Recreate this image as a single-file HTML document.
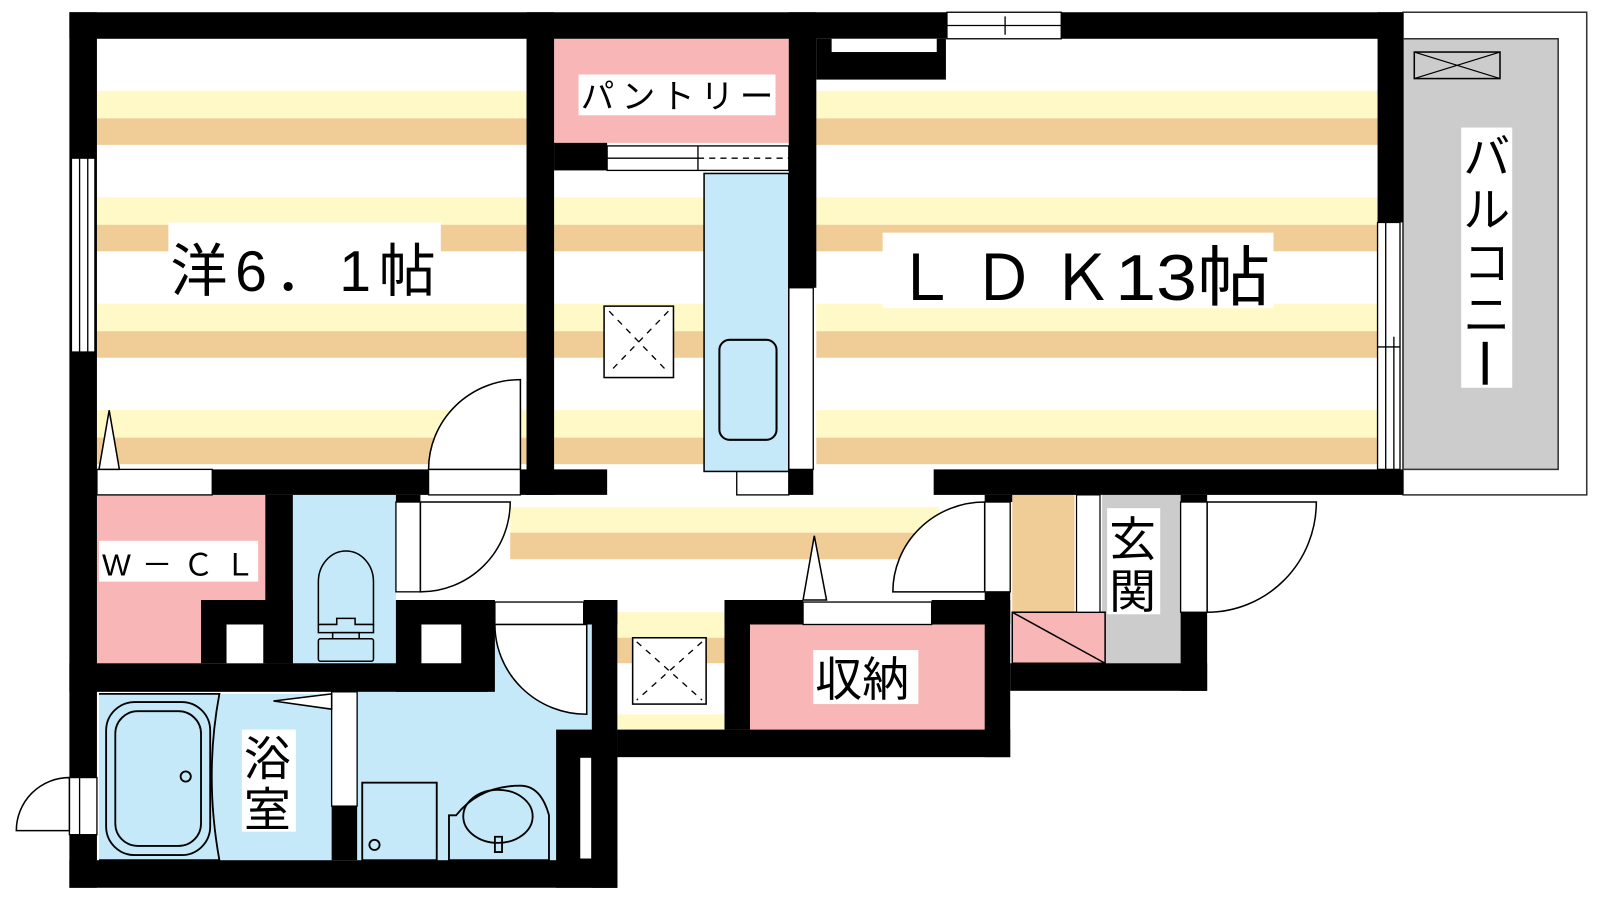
<!DOCTYPE html>
<html><head><meta charset="utf-8"><style>html,body{margin:0;padding:0;background:#fff}svg{display:block}text{font-family:"Liberation Sans","Noto Sans CJK JP",sans-serif;fill:#000}</style></head><body>
<svg width="1600" height="900" viewBox="0 0 1568 882" xmlns="http://www.w3.org/2000/svg">
<defs>
<pattern id="st" x="0" y="89" width="10" height="104.3" patternUnits="userSpaceOnUse">
<rect width="10" height="104.3" fill="#fff"/><rect width="10" height="27" fill="#fff9c8"/><rect y="27" width="10" height="26" fill="#f0cc96"/>
</pattern>
</defs>
<rect width="1568" height="882" fill="#fff"/>
<rect x="95" y="38" width="421" height="422" fill="url(#st)"/>
<rect x="543" y="167" width="230" height="293" fill="url(#st)"/>
<rect x="800" y="78" width="550" height="382" fill="url(#st)"/>
<rect x="500" y="497" width="420" height="25" fill="#fff9c8"/>
<rect x="500" y="522" width="420" height="26" fill="#f0cc96"/>
<rect x="605" y="600" width="105" height="25" fill="#fff9c8"/>
<rect x="605" y="625" width="105" height="25" fill="#f0cc96"/>
<rect x="605" y="700" width="105" height="15" fill="#fff9c8"/>
<rect x="543" y="38" width="230" height="102" fill="#f8b6b6"/>
<path d="M95 485H260V588H197V650H95Z" fill="#f8b6b6"/>
<rect x="287" y="485" width="101" height="165" fill="#c5e9f8"/>
<rect x="97" y="680" width="228" height="163" fill="#c5e9f8"/>
<path d="M350 678H482V612H580V843H350Z" fill="#c5e9f8"/>
<rect x="735" y="612" width="230" height="103" fill="#f8b6b6"/>
<rect x="992" y="485" width="61" height="115" fill="#f0cc96"/>
<rect x="1080" y="485" width="77" height="165" fill="#ccc"/>
<rect x="992" y="600" width="91" height="50" fill="#f8b6b6" stroke="#000" stroke-width="1.5"/>
<line x1="992" y1="600" x2="1083" y2="650" stroke="#000" stroke-width="1.5"/>
<rect x="1055" y="485" width="23" height="115" fill="#fff" stroke="#000" stroke-width="1.2"/>
<rect x="1375" y="12" width="180" height="473" fill="#fff" stroke="#333" stroke-width="1.5"/>
<rect x="1375" y="38" width="152" height="422" fill="#ccc" stroke="#333" stroke-width="1.5"/>
<rect x="1386" y="51" width="84" height="26" fill="none" stroke="#000" stroke-width="1.5"/>
<path d="M1386 51L1470 77M1470 51L1386 77" stroke="#000" stroke-width="1.2"/>
<g fill="#000">
<rect x="68" y="12" width="860" height="26"/>
<rect x="1040" y="12" width="335" height="26"/>
<rect x="68" y="12" width="27" height="858"/>
<rect x="516" y="12" width="27" height="473"/>
<rect x="773" y="12" width="27" height="270"/>
<rect x="773" y="460" width="24" height="25"/>
<rect x="800" y="38" width="127" height="40"/>
<rect x="543" y="140" width="52" height="27"/>
<rect x="208" y="460" width="212" height="25"/>
<rect x="510" y="460" width="85" height="25"/>
<rect x="915" y="460" width="460" height="25"/>
<rect x="1350" y="12" width="25" height="206"/>
<rect x="260" y="485" width="27" height="165"/>
<rect x="197" y="588" width="90" height="62"/>
<rect x="68" y="650" width="410" height="28"/>
<rect x="388" y="588" width="97" height="90"/>
<rect x="388" y="485" width="24" height="7"/>
<rect x="572" y="588" width="33" height="24"/>
<rect x="580" y="588" width="25" height="282"/>
<rect x="545" y="715" width="60" height="155"/>
<rect x="325" y="790" width="25" height="53"/>
<rect x="68" y="843" width="537" height="27"/>
<rect x="605" y="715" width="385" height="27"/>
<rect x="710" y="588" width="25" height="127"/>
<rect x="710" y="588" width="77" height="24"/>
<rect x="913" y="588" width="77" height="24"/>
<rect x="965" y="580" width="25" height="162"/>
<rect x="965" y="485" width="27" height="7"/>
<rect x="990" y="650" width="193" height="27"/>
<rect x="1157" y="600" width="26" height="77"/>
<rect x="1157" y="485" width="26" height="7"/>
</g>
<g fill="#fff">
<rect x="815" y="38" width="103" height="13"/>
<rect x="222" y="612" width="36" height="38"/>
<rect x="413" y="612" width="39" height="38"/>
</g>
<g fill="#fff" stroke="#000" stroke-width="1.3">
<rect x="928" y="12" width="112" height="26"/>
<rect x="70" y="155" width="23" height="190"/>
<rect x="1350" y="218" width="22" height="242"/>
<rect x="773" y="282" width="24" height="178"/>
<rect x="595" y="143" width="178" height="24"/>
<rect x="95" y="460" width="113" height="25"/>
<rect x="420" y="460" width="90" height="25"/>
<rect x="722" y="462" width="51" height="23"/>
<rect x="388" y="492" width="24" height="88"/>
<rect x="485" y="590" width="87" height="22"/>
<rect x="325" y="678" width="25" height="112"/>
<rect x="568" y="742" width="12" height="100"/>
<rect x="787" y="590" width="126" height="22"/>
<rect x="965" y="492" width="25" height="88"/>
<rect x="1157" y="492" width="26" height="108"/>
<rect x="68" y="762" width="27" height="56"/>
</g>
<g stroke="#000" stroke-width="1.3" fill="none">
<path d="M928 25H1040M985 16V34M78 155V345M86 155V345M1358 218V460M1366 330V460M1350 340H1372"/>
<path d="M595 155H684M684 143V167" />
<path d="M684 155H773" stroke-dasharray="6 5"/>
<path d="M78 762V818"/>
</g>
<rect x="690" y="170" width="83" height="292" fill="#c5e9f8" stroke="#000" stroke-width="1.5"/>
<rect x="705" y="333" width="56" height="98" rx="10" fill="none" stroke="#000" stroke-width="2"/>
<rect x="592" y="300" width="68" height="70" fill="#fff" stroke="#000" stroke-width="1.5"/>
<path d="M597 305L655 365M655 305L597 365" stroke="#000" stroke-width="1.3" stroke-dasharray="6 6"/>
<rect x="620" y="625" width="72" height="65" fill="#fff" stroke="#000" stroke-width="1.5"/>
<path d="M624 629L688 686M688 629L624 686" stroke="#000" stroke-width="1.3" stroke-dasharray="6 6"/>
<g fill="#fff" stroke="#000" stroke-width="1.5">
<path d="M510 372V460H420A90 88 0 0 1 510 372Z"/>
<path d="M412 492H500A88 88 0 0 1 412 580Z"/>
<path d="M575 612V700A90 88 0 0 1 485 612Z"/>
<path d="M965 580H875A90 88 0 0 1 965 492Z"/>
<path d="M1183 492H1290A107 108 0 0 1 1183 600Z"/>
<path d="M68 762A52 52 0 0 0 16 814H68Z"/>
<path d="M97 460L107 402L117 460Z"/>
<path d="M787 588L798 525L810 588Z"/>
<path d="M325 680L268 687L325 695Z"/>
</g>
<g fill="#c5e9f8" stroke="#000" stroke-width="1.5">
<path d="M312 612V570A27 30 0 0 1 366 570V612Z"/>
<path d="M312 612H330V606H348V612H366V620H312Z"/>
<rect x="326" y="620" width="26" height="6"/>
<rect x="312" y="626" width="54" height="22" rx="2"/>
</g>
<g fill="none" stroke="#000" stroke-width="1.8">
<path d="M97 680H215Q200 760 215 843H97"/>
<rect x="104" y="688" width="102" height="150" rx="28"/>
<rect x="113" y="697" width="84" height="132" rx="22"/>
<circle cx="182" cy="761" r="5"/>
<rect x="355" y="767" width="73" height="76"/>
<circle cx="367" cy="828" r="5"/>
<path d="M440 843V799H447Q470 770 510 770Q530 770 538 799V843Z"/>
<ellipse cx="488" cy="800" rx="34" ry="26"/>
<path d="M485 820H492V835H485Z"/>
</g>
<rect x="165" y="218" width="267" height="72" fill="#fff"/>
<text x="167" y="285" font-size="56" textLength="260" lengthAdjust="spacing">洋6．1帖</text>
<rect x="865" y="228" width="383" height="74" fill="#fff"/>
<text x="876" y="294" font-size="62" textLength="215" lengthAdjust="spacing">ＬＤＫ</text>
<text x="1093" y="294" font-size="64" textLength="152" lengthAdjust="spacingAndGlyphs">13帖</text>
<rect x="567" y="73" width="193" height="40" fill="#fff"/>
<text x="569" y="106" font-size="33" textLength="189" lengthAdjust="spacing">パントリー</text>
<rect x="97" y="530" width="156" height="40" fill="#fff"/>
<text x="100" y="564" font-size="30" textLength="150">W－ＣＬ</text>
<rect x="797" y="637" width="103" height="53" fill="#fff"/>
<text x="799" y="682" font-size="46">収納</text>
<rect x="1085" y="498" width="52" height="104" fill="#fff"/>
<text x="1087" y="545" font-size="46">玄</text><text x="1087" y="596" font-size="46">関</text>
<rect x="237" y="715" width="53" height="100" fill="#fff"/>
<text x="239" y="760" font-size="46">浴</text><text x="239" y="810" font-size="46">室</text>
<rect x="1432" y="125" width="50" height="255" fill="#fff"/>
<text x="1434" y="170" font-size="46">バ</text><text x="1434" y="222" font-size="46">ル</text><text x="1434" y="274" font-size="46">コ</text><text x="1434" y="325" font-size="46">ニ</text>
<rect x="1453" y="335" width="5" height="42" fill="#000"/>
</svg>
</body></html>
